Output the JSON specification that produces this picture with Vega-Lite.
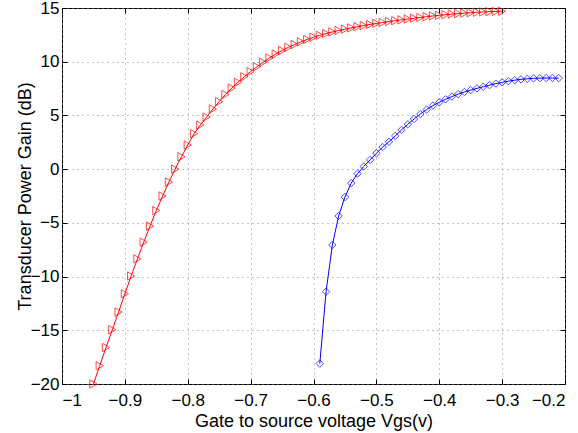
{
  "$schema": "https://vega.github.io/schema/vega-lite/v6.json",
  "width": 503,
  "height": 376,
  "autosize": {"type": "none"},
  "padding": {"left": 62, "top": 8, "right": 13, "bottom": 49},
  "background": "white",
  "config": {
    "view": {"stroke": "black", "strokeWidth": 1},
    "font": "Liberation Sans",
    "axis": {
      "domain": false,
      "grid": true,
      "gridColor": "#888",
      "gridDash": [1, 4],
      "gridOpacity": 1,
      "gridWidth": 1,
      "tickColor": "black",
      "tickSize": -5,
      "tickWidth": 1,
      "labelColor": "black",
      "labelFontSize": 17,
      "labelFont": "Liberation Sans",
      "titleFont": "Liberation Sans",
      "titleFontSize": 18,
      "titleFontWeight": "normal",
      "titleColor": "black"
    }
  },
  "data": {
    "values": [
      {"s": "A", "v": -0.95, "g": -20.0},
      {"s": "A", "v": -0.94, "g": -18.3},
      {"s": "A", "v": -0.93, "g": -16.6},
      {"s": "A", "v": -0.92, "g": -14.95},
      {"s": "A", "v": -0.91, "g": -13.3},
      {"s": "A", "v": -0.90, "g": -11.6},
      {"s": "A", "v": -0.89, "g": -9.95},
      {"s": "A", "v": -0.88, "g": -8.35},
      {"s": "A", "v": -0.87, "g": -6.8},
      {"s": "A", "v": -0.86, "g": -5.3},
      {"s": "A", "v": -0.85, "g": -3.85},
      {"s": "A", "v": -0.84, "g": -2.5},
      {"s": "A", "v": -0.83, "g": -1.2},
      {"s": "A", "v": -0.82, "g": 0.0},
      {"s": "A", "v": -0.81, "g": 1.15},
      {"s": "A", "v": -0.80, "g": 2.25},
      {"s": "A", "v": -0.79, "g": 3.3},
      {"s": "A", "v": -0.78, "g": 4.1},
      {"s": "A", "v": -0.77, "g": 4.85},
      {"s": "A", "v": -0.76, "g": 5.6},
      {"s": "A", "v": -0.75, "g": 6.28},
      {"s": "A", "v": -0.74, "g": 6.95},
      {"s": "A", "v": -0.73, "g": 7.55},
      {"s": "A", "v": -0.72, "g": 8.08},
      {"s": "A", "v": -0.71, "g": 8.6},
      {"s": "A", "v": -0.70, "g": 9.08},
      {"s": "A", "v": -0.69, "g": 9.53},
      {"s": "A", "v": -0.68, "g": 9.95},
      {"s": "A", "v": -0.67, "g": 10.35},
      {"s": "A", "v": -0.66, "g": 10.72},
      {"s": "A", "v": -0.65, "g": 11.04},
      {"s": "A", "v": -0.64, "g": 11.34},
      {"s": "A", "v": -0.63, "g": 11.6},
      {"s": "A", "v": -0.62, "g": 11.85},
      {"s": "A", "v": -0.61, "g": 12.07},
      {"s": "A", "v": -0.60, "g": 12.28},
      {"s": "A", "v": -0.59, "g": 12.46},
      {"s": "A", "v": -0.58, "g": 12.62},
      {"s": "A", "v": -0.57, "g": 12.77},
      {"s": "A", "v": -0.56, "g": 12.91},
      {"s": "A", "v": -0.55, "g": 13.03},
      {"s": "A", "v": -0.54, "g": 13.15},
      {"s": "A", "v": -0.53, "g": 13.26},
      {"s": "A", "v": -0.52, "g": 13.37},
      {"s": "A", "v": -0.51, "g": 13.47},
      {"s": "A", "v": -0.50, "g": 13.56},
      {"s": "A", "v": -0.49, "g": 13.65},
      {"s": "A", "v": -0.48, "g": 13.74},
      {"s": "A", "v": -0.47, "g": 13.82},
      {"s": "A", "v": -0.46, "g": 13.9},
      {"s": "A", "v": -0.45, "g": 13.97},
      {"s": "A", "v": -0.44, "g": 14.05},
      {"s": "A", "v": -0.43, "g": 14.12},
      {"s": "A", "v": -0.42, "g": 14.19},
      {"s": "A", "v": -0.41, "g": 14.26},
      {"s": "A", "v": -0.40, "g": 14.32},
      {"s": "A", "v": -0.39, "g": 14.38},
      {"s": "A", "v": -0.38, "g": 14.43},
      {"s": "A", "v": -0.37, "g": 14.48},
      {"s": "A", "v": -0.36, "g": 14.52},
      {"s": "A", "v": -0.35, "g": 14.56},
      {"s": "A", "v": -0.34, "g": 14.6},
      {"s": "A", "v": -0.33, "g": 14.63},
      {"s": "A", "v": -0.32, "g": 14.66},
      {"s": "A", "v": -0.31, "g": 14.68},
      {"s": "A", "v": -0.30, "g": 14.7},
      {"s": "B", "v": -0.59, "g": -18.1},
      {"s": "B", "v": -0.58, "g": -11.4},
      {"s": "B", "v": -0.57, "g": -7.06},
      {"s": "B", "v": -0.56, "g": -4.36},
      {"s": "B", "v": -0.55, "g": -2.6},
      {"s": "B", "v": -0.54, "g": -1.3},
      {"s": "B", "v": -0.53, "g": -0.42},
      {"s": "B", "v": -0.52, "g": 0.25},
      {"s": "B", "v": -0.51, "g": 0.86},
      {"s": "B", "v": -0.50, "g": 1.48},
      {"s": "B", "v": -0.49, "g": 2.05},
      {"s": "B", "v": -0.48, "g": 2.55},
      {"s": "B", "v": -0.47, "g": 3.09},
      {"s": "B", "v": -0.46, "g": 3.65},
      {"s": "B", "v": -0.45, "g": 4.18},
      {"s": "B", "v": -0.44, "g": 4.67},
      {"s": "B", "v": -0.43, "g": 5.13},
      {"s": "B", "v": -0.42, "g": 5.55},
      {"s": "B", "v": -0.41, "g": 5.92},
      {"s": "B", "v": -0.40, "g": 6.22},
      {"s": "B", "v": -0.39, "g": 6.5},
      {"s": "B", "v": -0.38, "g": 6.75},
      {"s": "B", "v": -0.37, "g": 6.98},
      {"s": "B", "v": -0.36, "g": 7.18},
      {"s": "B", "v": -0.35, "g": 7.36},
      {"s": "B", "v": -0.34, "g": 7.52},
      {"s": "B", "v": -0.33, "g": 7.67},
      {"s": "B", "v": -0.32, "g": 7.82},
      {"s": "B", "v": -0.31, "g": 7.96},
      {"s": "B", "v": -0.30, "g": 8.08},
      {"s": "B", "v": -0.29, "g": 8.19},
      {"s": "B", "v": -0.28, "g": 8.28},
      {"s": "B", "v": -0.27, "g": 8.36},
      {"s": "B", "v": -0.26, "g": 8.41},
      {"s": "B", "v": -0.25, "g": 8.45},
      {"s": "B", "v": -0.24, "g": 8.47},
      {"s": "B", "v": -0.23, "g": 8.48},
      {"s": "B", "v": -0.22, "g": 8.48},
      {"s": "B", "v": -0.21, "g": 8.47}
    ]
  },
  "resolve": {"scale": {"x": "independent", "y": "independent"}, "axis": {"x": "independent", "y": "independent"}},
  "layer": [
    {
      "mark": {"type": "line", "strokeWidth": 1, "clip": false},
      "encoding": {
        "x": {"field": "v", "type": "quantitative", "scale": {"domain": [-1, -0.2], "nice": false, "zero": false},
              "axis": {"title": "Gate to source voltage Vgs(v)", "values": [-1, -0.9, -0.8, -0.7, -0.6, -0.5, -0.4, -0.3, -0.2], "format": ".1~f", "labelPadding": 13, "titlePadding": 4}},
        "y": {"field": "g", "type": "quantitative", "scale": {"domain": [-20, 15], "nice": false, "zero": false},
              "axis": {"title": "Transducer Power Gain (dB)", "values": [-20, -15, -10, -5, 0, 5, 10, 15], "labelPadding": 8, "titlePadding": -4}},
        "color": {"field": "s", "type": "nominal", "scale": {"domain": ["A", "B"], "range": ["#ff0000", "#0000ff"]}, "legend": null},
        "detail": {"field": "s"}
      }
    },
    {
      "mark": {"type": "point", "filled": false, "strokeWidth": 1, "clip": false},
      "encoding": {
        "x": {"field": "v", "type": "quantitative", "scale": {"domain": [-1, -0.2], "nice": false, "zero": false},
              "axis": {"orient": "top", "labels": false, "title": null, "grid": false, "values": [-1, -0.9, -0.8, -0.7, -0.6, -0.5, -0.4, -0.3, -0.2]}},
        "y": {"field": "g", "type": "quantitative", "scale": {"domain": [-20, 15], "nice": false, "zero": false},
              "axis": {"orient": "right", "labels": false, "title": null, "grid": false, "values": [-20, -15, -10, -5, 0, 5, 10, 15]}},
        "color": {"field": "s", "type": "nominal", "scale": {"domain": ["A", "B"], "range": ["#ff0000", "#0000ff"]}, "legend": null},
        "shape": {"field": "s", "type": "nominal", "scale": {"domain": ["A", "B"], "range": ["triangle-right", "diamond"]}, "legend": null},
        "size": {"field": "s", "type": "nominal", "scale": {"domain": ["A", "B"], "range": [70, 55]}, "legend": null}
      }
    }
  ]
}
